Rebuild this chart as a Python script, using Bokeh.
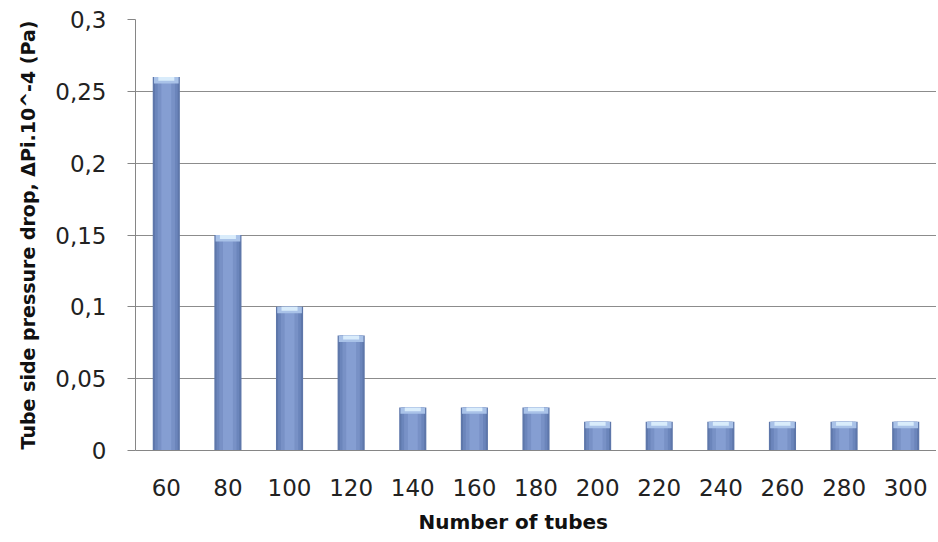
from bokeh.plotting import figure
from bokeh.models import Range1d, FixedTicker, Title
from bokeh.embed import file_html
from bokeh.resources import INLINE

# Data
tubes = ["60", "80", "100", "120", "140", "160", "180", "200", "220", "240", "260", "280", "300"]
pressure_drop = [0.26, 0.15, 0.10, 0.08, 0.03, 0.03, 0.03, 0.02, 0.02, 0.02, 0.02, 0.02, 0.02]
y_ticks = [0, 0.05, 0.1, 0.15, 0.2, 0.25, 0.3]
y_tick_labels = ["0", "0,05", "0,1", "0,15", "0,2", "0,25", "0,3"]

FONT = "DejaVu Sans"

p = figure(x_range=tubes, y_range=Range1d(0, 0.3), width=936, height=542,
           output_backend="svg", toolbar_location=None,
           min_border_left=135, min_border_top=19, min_border_right=0,
           min_border_bottom=90)
p.outline_line_color = None
p.background_fill_color = "white"

# cylinder-like shaded bars (layered)
p.vbar(x=tubes, top=pressure_drop, width=0.44, fill_color="#5e77aa", line_color=None)
p.vbar(x=tubes, top=pressure_drop, width=0.37, fill_color="#6b85bb", line_color=None)
p.vbar(x=tubes, top=pressure_drop, width=0.28, fill_color="#7891c6", line_color=None)
p.vbar(x=tubes, top=pressure_drop, width=0.16, fill_color="#859ed2", line_color=None)
cap_h = 0.0045
p.vbar(x=tubes, top=pressure_drop, bottom=[v - cap_h for v in pressure_drop], width=0.40,
       fill_color="#a9c2e8", line_color=None)
p.vbar(x=tubes, top=pressure_drop, bottom=[v - cap_h * 0.6 for v in pressure_drop], width=0.26,
       fill_color="#d9ecfb", line_color=None)

# grid
p.xgrid.grid_line_color = None
p.ygrid.grid_line_color = "#8c8c8c"
p.ygrid.grid_line_width = 1
p.yaxis.ticker = FixedTicker(ticks=y_ticks)
p.yaxis.major_label_overrides = {t: l for t, l in zip(y_ticks, y_tick_labels)}

# y axis
p.yaxis.axis_line_color = "#868686"
p.yaxis.major_tick_line_color = "#868686"
p.yaxis.major_tick_out = 8
p.yaxis.major_tick_in = 0
p.yaxis.minor_tick_line_color = None
p.yaxis.major_label_text_font = FONT
p.yaxis.major_label_text_font_size = "23px"
p.yaxis.major_label_text_color = "#222222"
p.yaxis.major_label_standoff = 21
p.yaxis.axis_label = "Tube side pressure drop, ΔPi.10^-4 (Pa)"
p.yaxis.axis_label_text_font = FONT
p.yaxis.axis_label_text_font_size = "19px"
p.yaxis.axis_label_text_font_style = "bold"
p.yaxis.axis_label_text_color = "#111111"
p.yaxis.axis_label_standoff = 13

# x axis
p.xaxis.axis_line_color = "#868686"
p.xaxis.major_tick_line_color = None
p.xaxis.minor_tick_line_color = None
p.xaxis.major_label_text_font = FONT
p.xaxis.major_label_text_font_size = "23px"
p.xaxis.major_label_text_color = "#222222"
p.xaxis.major_label_standoff = 22

xlabel = Title(text="Number of tubes", align="left", offset=283,
               text_font=FONT, text_font_size="20px", text_font_style="bold",
               text_color="#111111", standoff=18)
p.add_layout(xlabel, "below")

open("out.html", "w").write(file_html(p, INLINE))
